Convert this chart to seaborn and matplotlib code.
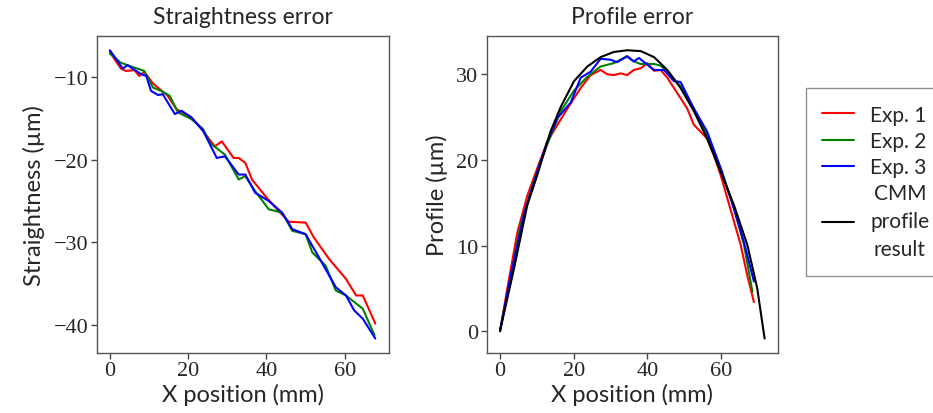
import pandas as pd
import seaborn as sns
import matplotlib.pyplot as plt
from matplotlib.lines import Line2D

# Straightness data (mm, um)
st_x1 = [0, 2.8, 4.1, 6.3, 7.5, 8.8, 11, 13, 14.8, 17, 20.8, 23.4, 26.8, 28.6, 31.6, 32.9, 34.6, 36.3,
         39.7, 43.1, 45.7, 50, 52.1, 56, 60.3, 62.9, 64.6, 67.8]
st_y1 = [-7.0, -9.0, -9.3, -9.2, -9.9, -9.4, -10.8, -11.6, -12.3, -13.9, -14.9, -16.3, -18.4, -17.8, -19.8,
         -19.8, -20.4, -22.4, -24.4, -26.2, -27.5, -27.6, -29.4, -32.0, -34.4, -36.4, -36.4, -39.8]
st_x2 = [0, 2.8, 6.3, 8.8, 11, 13.1, 15.3, 17.4, 20.8, 23.8, 25.6, 29.4, 32.9, 34.6, 37.1, 40.6, 44, 46.6,
         50, 51.7, 55.1, 57.7, 60.3, 64.6, 67.6]
st_y2 = [-7.2, -8.3, -8.9, -9.3, -11.3, -11.7, -12.3, -14.3, -15.1, -16.3, -18.0, -19.4, -22.4, -22.0,
         -23.8, -26.0, -26.4, -28.6, -29.0, -31.2, -32.8, -35.8, -36.4, -38.0, -41.2]
st_x3 = [0, 3.3, 4.5, 8, 9.3, 10.5, 12.3, 13.5, 16.6, 18.3, 20.8, 23.8, 27.3, 29.4, 32.9, 34.6, 37.1, 40.6,
         44, 46.6, 50, 53.4, 57.7, 60.3, 62.4, 64.6, 67.8]
st_y3 = [-6.8, -9.0, -8.6, -9.7, -9.9, -11.7, -12.2, -12.1, -14.5, -14.1, -14.9, -16.5, -19.8, -19.6,
         -21.8, -21.8, -24.0, -25.0, -26.4, -28.4, -29.0, -31.8, -35.4, -36.4, -38.2, -39.2, -41.6]

# Profile data (mm, um)
pr_x1 = [0, 2, 4.7, 7.4, 10.1, 12.8, 15.6, 18.3, 21.9, 24.6, 27.3, 29.1, 30.9, 32.7, 34.5, 36.3, 38.2, 40,
         41.8, 43.6, 45.4, 47.2, 49, 50.8, 52.6, 54.4, 56.2, 58, 59.9, 61.7, 63.5, 65.3, 67.1, 68.9]
pr_y1 = [0, 5.0, 11.5, 15.8, 19.0, 22.1, 24.1, 26.0, 28.4, 29.9, 30.5, 30.0, 29.9, 30.1, 29.9, 30.5, 30.7,
         31.3, 30.4, 30.5, 29.6, 28.4, 27.2, 26.0, 24.1, 23.3, 22.5, 20.6, 18.2, 15.5, 12.8, 10.1, 6.5, 3.4]
pr_x2 = [0, 2.9, 5.6, 9.2, 12.8, 16.5, 20.1, 23.7, 27.3, 30.9, 34.5, 36.3, 38.2, 41.8, 43.6, 45.4, 49,
         52.6, 56.2, 59.9, 63.5, 66.2, 68.5]
pr_y2 = [0, 6.2, 12.4, 17.5, 21.8, 25.7, 28.1, 29.7, 30.9, 31.3, 32.1, 31.5, 31.2, 31.2, 31.0, 30.3, 28.6,
         26.0, 22.9, 19.0, 14.3, 10.1, 4.6]
pr_x3 = [0, 2.9, 6.5, 10.1, 12.8, 15.6, 19.2, 21.9, 24.6, 27.3, 30, 31.8, 34.5, 36.3, 37.7, 40, 41.8, 44.5,
         47.2, 49, 52.6, 56.2, 59.9, 63.5, 66.2, 68.9]
pr_y3 = [0, 6.5, 13.6, 18.6, 22.1, 24.9, 26.7, 29.6, 30.3, 31.8, 31.7, 31.4, 32.1, 31.5, 31.9, 31.1, 30.5,
         30.5, 29.2, 29.1, 26.0, 23.3, 19.0, 14.3, 10.4, 5.8]
cmm_x = [0, 3.8, 7.4, 10.1, 13.7, 16.5, 20.1, 23.7, 27.3, 30.9, 34.5, 38.2, 41.8, 45.4, 49, 52.6, 56.2,
         59.9, 63.5, 67.1, 69.8, 71.8]
cmm_y = [0, 7.3, 14.7, 18.2, 23.3, 26.2, 29.2, 30.9, 32.0, 32.6, 32.8, 32.7, 32.0, 30.5, 28.4, 25.7, 22.5,
         18.6, 14.7, 10.1, 5.0, -0.86]

labels = ['Exp. 1', 'Exp. 2', 'Exp. 3', 'CMM\nprofile\nresult']
colors = ['#ff0000', '#008000', '#0000ff', '#000000']


def long_df(pairs, names):
    frames = []
    for (x, y), n in zip(pairs, names):
        frames.append(pd.DataFrame({'x': x, 'y': y, 'series': n}))
    return pd.concat(frames, ignore_index=True)


df_st = long_df([(st_x1, st_y1), (st_x2, st_y2), (st_x3, st_y3)], labels[:3])
df_pr = long_df([(pr_x1, pr_y1), (pr_x2, pr_y2), (pr_x3, pr_y3), (cmm_x, cmm_y)], labels)

sns.set_style('white')
sans = ['Lato', 'DejaVu Sans']
serif = ['Liberation Serif', 'DejaVu Serif']

fig = plt.figure(figsize=(9.33, 4.14), dpi=100)
ax1 = fig.add_axes([0.1035, 0.145, 0.313, 0.766])
ax2 = fig.add_axes([0.5217, 0.145, 0.312, 0.766])

pal = dict(zip(labels, colors))
sns.lineplot(data=df_st, x='x', y='y', hue='series', palette=pal, sort=False, estimator=None,
             legend=False, lw=1.5, ax=ax1)
sns.lineplot(data=df_pr, x='x', y='y', hue='series', palette=pal, sort=False, estimator=None,
             legend=False, lw=1.5, ax=ax2)

ax1.set_title('Straightness error', fontsize=16.5, family=sans, pad=9)
ax2.set_title('Profile error', fontsize=16.5, family=sans, pad=9)
ax1.set_xlabel('X position (mm)', fontsize=17, family=sans, labelpad=2)
ax2.set_xlabel('X position (mm)', fontsize=17, family=sans, labelpad=2)
ax1.set_ylabel('Straightness (µm)', fontsize=17, family=sans, labelpad=6)
ax2.set_ylabel('Profile (µm)', fontsize=17, family=sans, labelpad=6)
ax1.set_yticks([-10, -20, -30, -40])
ax2.set_yticks([0, 10, 20, 30])

for ax in (ax1, ax2):
    ax.set_xticks([0, 20, 40, 60])
    ax.tick_params(axis='both', direction='out', length=4, width=1, color='#444444',
                   labelsize=16, left=True, bottom=True, pad=2)
    for lab in ax.get_xticklabels() + ax.get_yticklabels():
        lab.set_family(serif)
    for sp in ax.spines.values():
        sp.set_color('#555555')
        sp.set_linewidth(1)

handles = [Line2D([], [], color=c, lw=1.5) for c in colors]
leg = fig.legend(handles, labels, loc='upper left', bbox_to_anchor=(0.8636, 0.785),
                 prop={'family': sans, 'size': 15}, frameon=True, fancybox=False,
                 edgecolor='#777777', handlelength=1.5, handletextpad=0.8,
                 labelspacing=0.3, borderpad=0.8, borderaxespad=0)
leg.get_frame().set_linewidth(1)
leg.get_texts()[3].set_multialignment('center')
leg.get_texts()[3].set_linespacing(1.5)

fig.savefig('out.png', dpi=100)
